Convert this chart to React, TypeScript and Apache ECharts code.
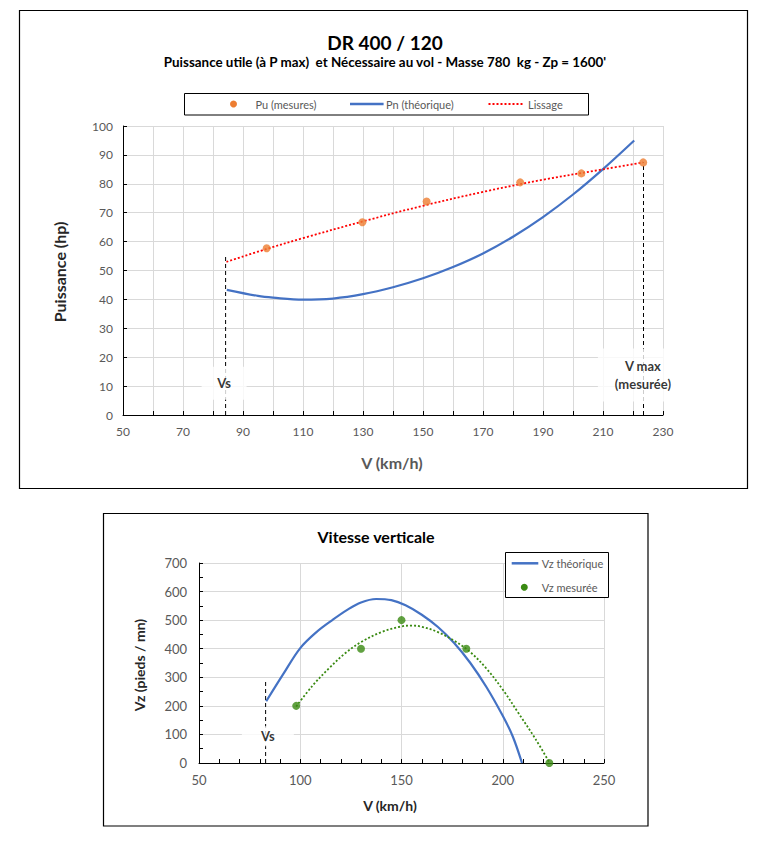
import React, { useEffect, useRef } from 'react';
import * as echarts from 'echarts';

// Puissance utile mesurée (hp) en fonction de V (km/h)
const puSpeeds = [97.9, 129.8, 151.2, 182.4, 202.8, 223.4];
const puPower = [57.7, 66.7, 73.9, 80.5, 83.6, 87.4];

// Puissance nécessaire théorique
const pnSpeeds = [84.6, 95, 100, 110, 120, 130, 140, 150, 160, 170, 180, 190, 200, 210, 220.4];
const pnPower = [43.3, 41.2, 40.6, 39.9, 40.3, 41.8, 44.2, 47.3, 51.2, 55.9, 61.7, 68.5, 76.3, 85.1, 95.0];

// Lissage de Pu
const lisSpeeds = [84.5, 98, 110, 130, 150, 170, 190, 210, 223.4];
const lisPower = [53.0, 57.5, 61.2, 67.0, 72.4, 77.2, 81.4, 85.0, 87.4];

// Vitesse verticale théorique (pieds / mn)
const vzThSpeeds = [83.2, 91.5, 100, 108, 116, 123, 130, 137.5, 145, 152, 160, 168, 176, 184, 192, 200, 205, 209.5];
const vzTh = [216, 310, 402, 458, 501, 535, 562, 574, 570, 552, 519, 476, 420, 350, 265, 165, 92, 0];

// Vitesse verticale mesurée
const vzMesSpeeds = [98, 130, 150, 182, 223];
const vzMes = [200, 400, 500, 400, 0];

// Courbe de tendance de Vz mesurée
const vzTrendSpeeds = [98, 106, 114, 122, 130, 140, 150, 155, 160, 168, 176, 184, 192, 200, 208, 216, 223.2];
const vzTrend = [198, 270, 330, 383, 423, 458, 478, 481, 477, 458, 428, 388, 330, 257, 172, 86, 0];

// Repères
const vsTop = 84.2;
const vsTopHeight = 55;
const vmaxSpeed = 223.5;
const vmaxPower = 87.4;
const vsBottom = 82.9;
const vsBottomHeight = 289;

const FONT = 'Lato, "Open Sans", sans-serif';
const ORANGE = '#ED7D31';
const BLUE = '#4472C4';
const RED = '#FF0000';
const GREEN = '#3A8A12';

const zip = (xs: number[], ys: number[]) => xs.map((x, i) => [x, ys[i]]);

const axisBase = {
  axisLine: { show: true, lineStyle: { color: '#000', width: 1 } },
  axisTick: { show: true, inside: true, length: 4, lineStyle: { color: '#000' } },
  splitLine: { show: true, lineStyle: { color: '#d9d9d9', width: 1 } },
  axisLabel: { color: '#595959', fontSize: 12, fontFamily: FONT, margin: 10, showMinLabel: true, showMaxLabel: true },
};

const boxLabel = (text: string, width: number, height: number) => ({
  show: true,
  position: 'inside',
  formatter: text,
  backgroundColor: '#fff',
  width,
  height,
  align: 'center',
  verticalAlign: 'middle',
  lineHeight: 18,
  color: '#000',
  fontWeight: 'bold',
  fontSize: 13,
  fontFamily: FONT,
});

const curve = (name: string, x: number, data: number[][], color: string, width: number, type: any) => ({
  name,
  type: 'line',
  xAxisIndex: x,
  yAxisIndex: x,
  data,
  smooth: 0.35,
  symbol: 'none',
  lineStyle: { color, width, type },
  z: 3,
});

const App: React.FC = () => {
  const chartRef = useRef<HTMLDivElement | null>(null);

  useEffect(() => {
    if (!chartRef.current) return;
    const chart = echarts.init(chartRef.current, undefined, { renderer: 'svg' });

    const option = {
      animation: false,
      backgroundColor: '#fff',
      grid: [
        { left: 123, top: 126, width: 540, height: 289 },
        { left: 199, top: 563, width: 405, height: 200 },
      ],
      xAxis: [
        {
          ...axisBase,
          type: 'value',
          gridIndex: 0,
          min: 50,
          max: 230,
          interval: 10,
          axisLabel: {
            ...axisBase.axisLabel,
            formatter: (v: number) => ((v - 50) % 20 === 0 ? String(v) : ''),
          },
        },
        {
          ...axisBase,
          type: 'value',
          gridIndex: 1,
          min: 50,
          max: 250,
          interval: 50,
          minorTick: { show: true, splitNumber: 5, length: 4, lineStyle: { color: '#000' } },
          axisLabel: { ...axisBase.axisLabel, fontSize: 13 },
        },
      ],
      yAxis: [
        {
          ...axisBase,
          type: 'value',
          gridIndex: 0,
          min: 0,
          max: 100,
          interval: 10,
        },
        {
          ...axisBase,
          type: 'value',
          gridIndex: 1,
          min: 0,
          max: 700,
          interval: 100,
          minorTick: { show: true, splitNumber: 2, length: 4, lineStyle: { color: '#000' } },
          axisLabel: { ...axisBase.axisLabel, fontSize: 13, margin: 12 },
        },
      ],
      series: [
        {
          name: 'Vs',
          type: 'line',
          xAxisIndex: 0,
          yAxisIndex: 0,
          data: [[vsTop, 0], [vsTop, vsTopHeight]],
          symbol: 'none',
          lineStyle: { color: '#000', width: 1, type: [4, 3] },
          z: 1,
        },
        {
          name: 'Vmax',
          type: 'line',
          xAxisIndex: 0,
          yAxisIndex: 0,
          data: [[vmaxSpeed, 0], [vmaxSpeed, vmaxPower]],
          symbol: 'none',
          lineStyle: { color: '#000', width: 1, type: [4, 3] },
          z: 1,
        },
        curve('Pn (théorique)', 0, zip(pnSpeeds, pnPower), BLUE, 2.2, 'solid'),
        curve('Lissage', 0, zip(lisSpeeds, lisPower), RED, 1.8, [2, 2]),
        {
          name: 'Pu (mesures)',
          type: 'scatter',
          xAxisIndex: 0,
          yAxisIndex: 0,
          data: zip(puSpeeds, puPower),
          symbolSize: 8,
          itemStyle: { color: ORANGE },
          z: 4,
        },
        {
          name: 'labelsTop',
          type: 'scatter',
          xAxisIndex: 0,
          yAxisIndex: 0,
          symbolSize: 1,
          itemStyle: { color: 'rgba(0,0,0,0)' },
          silent: true,
          z: 5,
          data: [
            { value: [83.7, 11], label: boxLabel('Vs', 45, 33) },
            { value: [223.3, 13.8], label: boxLabel('V max\n(mesurée)', 90, 53) },
          ],
        },
        {
          name: 'Vs bas',
          type: 'line',
          xAxisIndex: 1,
          yAxisIndex: 1,
          data: [[vsBottom, 0], [vsBottom, vsBottomHeight]],
          symbol: 'none',
          lineStyle: { color: '#000', width: 1, type: [4, 3] },
          z: 1,
        },
        curve('Vz théorique', 1, zip(vzThSpeeds, vzTh), BLUE, 2.2, 'solid'),
        curve('Tendance Vz', 1, zip(vzTrendSpeeds, vzTrend), GREEN, 1.8, [2, 2]),
        {
          name: 'Vz mesurée',
          type: 'scatter',
          xAxisIndex: 1,
          yAxisIndex: 1,
          data: zip(vzMesSpeeds, vzMes),
          symbolSize: 8,
          itemStyle: { color: GREEN },
          z: 4,
        },
        {
          name: 'labelsBottom',
          type: 'scatter',
          xAxisIndex: 1,
          yAxisIndex: 1,
          symbolSize: 1,
          itemStyle: { color: 'rgba(0,0,0,0)' },
          silent: true,
          z: 5,
          data: [{ value: [84, 94], label: boxLabel('Vs', 52, 20) }],
        },
      ],
      graphic: [
        // cadres
        { type: 'rect', shape: { x: 19.5, y: 10.5, width: 728, height: 478 }, style: { fill: 'none', stroke: '#000', lineWidth: 1.2 }, z: 100 },
        { type: 'rect', shape: { x: 103.5, y: 513.5, width: 544.5, height: 312.5 }, style: { fill: 'none', stroke: '#000', lineWidth: 1.2 }, z: 100 },
        // titres
        { type: 'text', style: { text: 'DR 400 / 120', x: 385, y: 42, textAlign: 'center', textVerticalAlign: 'middle', font: `bold 19px ${FONT}`, fill: '#000' }, z: 100 },
        { type: 'text', style: { text: "Puissance utile (à P max)  et Nécessaire au vol - Masse 780  kg - Zp = 1600'", x: 385, y: 62, textAlign: 'center', textVerticalAlign: 'middle', font: `bold 13.4px ${FONT}`, fill: '#000' }, z: 100 },
        { type: 'text', style: { text: 'Vitesse verticale', x: 376, y: 536, textAlign: 'center', textVerticalAlign: 'middle', font: `bold 16px ${FONT}`, fill: '#000' }, z: 100 },
        // titres des axes
        { type: 'text', x: 59, y: 272, rotation: Math.PI / 2, style: { text: 'Puissance (hp)', x: 0, y: 0, textAlign: 'center', textVerticalAlign: 'middle', font: `bold 16px ${FONT}`, fill: '#262626' }, z: 100 },
        { type: 'text', style: { text: 'V (km/h)', x: 392, y: 462, textAlign: 'center', textVerticalAlign: 'middle', font: `bold 16px ${FONT}`, fill: '#595959' }, z: 100 },
        { type: 'text', x: 139, y: 665, rotation: Math.PI / 2, style: { text: 'Vz (pieds / mn)', x: 0, y: 0, textAlign: 'center', textVerticalAlign: 'middle', font: `bold 14px ${FONT}`, fill: '#262626' }, z: 100 },
        { type: 'text', style: { text: 'V (km/h)', x: 390, y: 805, textAlign: 'center', textVerticalAlign: 'middle', font: `bold 14px ${FONT}`, fill: '#262626' }, z: 100 },
        // légende du haut
        { type: 'rect', shape: { x: 184.5, y: 93.5, width: 404, height: 21.5 }, style: { fill: '#fff', stroke: '#000', lineWidth: 1 }, z: 100 },
        { type: 'circle', shape: { cx: 233.5, cy: 104, r: 3.5 }, style: { fill: ORANGE }, z: 101 },
        { type: 'text', style: { text: 'Pu (mesures)', x: 255.4, y: 104, textVerticalAlign: 'middle', font: `11px ${FONT}`, fill: '#595959' }, z: 101 },
        { type: 'line', shape: { x1: 350, y1: 104, x2: 383.6, y2: 104 }, style: { stroke: BLUE, lineWidth: 2.5 }, z: 101 },
        { type: 'text', style: { text: 'Pn (théorique)', x: 386, y: 104, textVerticalAlign: 'middle', font: `11px ${FONT}`, fill: '#595959' }, z: 101 },
        { type: 'line', shape: { x1: 488.5, y1: 104, x2: 522.6, y2: 104 }, style: { stroke: RED, lineWidth: 2, lineDash: [2, 2] }, z: 101 },
        { type: 'text', style: { text: 'Lissage', x: 528, y: 104, textVerticalAlign: 'middle', font: `11px ${FONT}`, fill: '#595959' }, z: 101 },
        // légende du bas
        { type: 'rect', shape: { x: 505.5, y: 552.5, width: 103, height: 45 }, style: { fill: '#fff', stroke: '#000', lineWidth: 1 }, z: 100 },
        { type: 'line', shape: { x1: 511.7, y1: 563.3, x2: 538.3, y2: 563.3 }, style: { stroke: BLUE, lineWidth: 2.5 }, z: 101 },
        { type: 'text', style: { text: 'Vz théorique', x: 541.7, y: 563.3, textVerticalAlign: 'middle', font: `11px ${FONT}`, fill: '#595959' }, z: 101 },
        { type: 'circle', shape: { cx: 524.3, cy: 587.3, r: 3.5 }, style: { fill: GREEN }, z: 101 },
        { type: 'text', style: { text: 'Vz mesurée', x: 541.7, y: 587.3, textVerticalAlign: 'middle', font: `11px ${FONT}`, fill: '#595959' }, z: 101 },
      ],
    };

    chart.setOption(option as any);

    return () => {
      chart.dispose();
    };
  }, []);

  return <div ref={chartRef} style={{ position: 'absolute', left: 0, top: 0, width: 758, height: 843 }} />;
};

export default App;
